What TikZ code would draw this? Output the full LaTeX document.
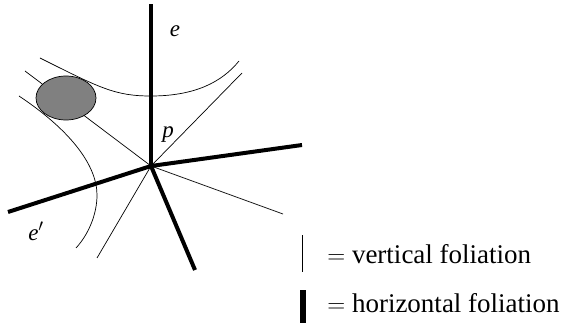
\documentclass[tikz,border=0pt]{standalone}
\usepackage{fontspec}
\setmainfont{Liberation Serif}
\usetikzlibrary{arrows.meta}

\begin{document}
\begin{tikzpicture}[x=1pt,y=-1pt,line width=.7pt]
\path[use as bounding box] (0,0) rectangle (568,326);
\coordinate (p) at (151,166);
% thin leaves through p
\draw (p) -- (242,73);
\draw (p) -- (97,258);
\draw (p) -- (283,214);
\draw (p) -- (25,71);
% hyperbolic leaves
\draw (40,58) .. controls (100,88) and (115,96) .. (151,96) .. controls (195,96) and (222,82) .. (239,61);
\draw (19,96) .. controls (70,130) and (97,165) .. (97,195) .. controls (97,215) and (88,235) .. (76,248);
\draw[fill=black!50] (66,98) ellipse (30 and 22);
% thick leaves through p
\draw[line width=4pt] (p) -- (151,4);
\draw[line width=4pt] (p) -- (302,145);
\draw[line width=4pt] (p) -- (8,212);
\draw[line width=4pt] (p) -- (195,270);
\node[inner sep=0pt,font=\fontsize{23}{26}\selectfont] (le) at (175,31) {\textit{e}};
\node[inner sep=0pt,font=\fontsize{23}{26}\selectfont] (lp) at (168,135) {\textit{p}};
\node[inner sep=0pt,font=\fontsize{23}{26}\selectfont] (lep) at (36,231) {\textit{e}$'$};
% legend
\draw (302,235) -- (302,272);
\draw[line width=6.5pt] (303,290) -- (303,323);
\node[anchor=base west,inner sep=0pt,font=\fontsize{27}{30}\selectfont] (lv) at (327,263) {$=$ vertical foliation};
\node[anchor=base west,inner sep=0pt,font=\fontsize{27}{30}\selectfont] (lh) at (327,312) {$=$ horizontal foliation};
\end{tikzpicture}
\end{document}
